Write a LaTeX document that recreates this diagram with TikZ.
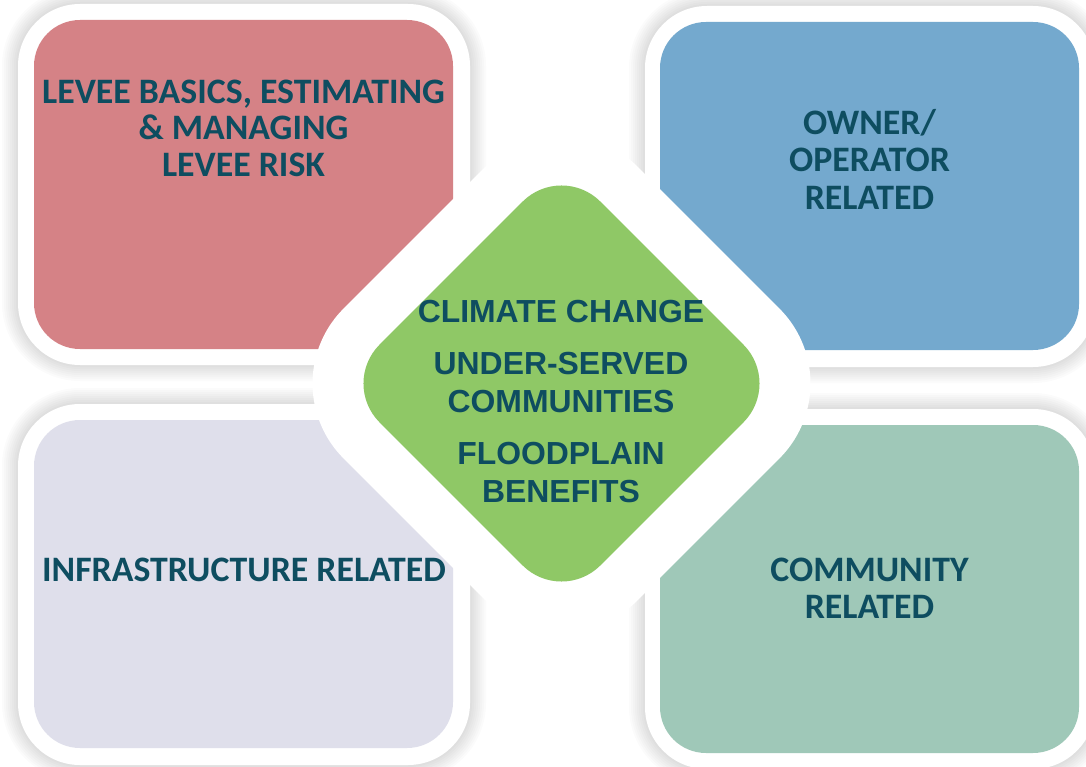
\documentclass[tikz,border=0pt]{standalone}
\usepackage{fontspec}
\newfontfamily\boxfont{Carlito}
\newfontfamily\centfont{Liberation Sans}
\definecolor{txt}{HTML}{0E4D60}
\definecolor{pinkc}{HTML}{D58286}
\definecolor{bluec}{HTML}{74A9CE}
\definecolor{lavc}{HTML}{DFDFEB}
\definecolor{tealc}{HTML}{9FC8B8}
\definecolor{greenc}{HTML}{8FC866}
\tikzset{
  outerbox/.style={fill=white, rounded corners=62pt},
  innerbox/.style={rounded corners=46pt},
  boxtext/.style={anchor=base, inner sep=0pt, text=txt, font=\boxfont\bfseries\fontsize{35.8}{38}\selectfont},
  centtext/.style={anchor=base, inner sep=0pt, text=txt, font=\centfont\bfseries\fontsize{31.9}{36}\selectfont},
  halo/.style={fill=white, draw=white, line width=102pt, line join=round, rounded corners=55pt},
}
\newcommand{\glow}[4]{%
  \foreach \w in {4,8,12,16,20,24,28,32}{%
    \draw[line width=\w pt, draw=black, draw opacity=0.014, rounded corners=62pt] (#1,#2) rectangle (#3,#4);}}
\begin{document}
\begin{tikzpicture}[x=1pt,y=-1pt]
\useasboundingbox (0,0) rectangle (1086,767);
\fill[white] (0,0) rectangle (1086,767);
% shadows
\glow{18}{4}{470}{365}
\glow{645}{6}{1095}{367}
\glow{18}{404}{470}{765}
\glow{645}{409}{1095}{769}
% outer white frames
\path[outerbox] (18,4) rectangle (470,365);
\path[outerbox] (645,6) rectangle (1095,367);
\path[outerbox] (18,404) rectangle (470,765);
\path[outerbox] (645,409) rectangle (1095,769);
% coloured boxes
\path[innerbox, fill=pinkc] (34,20) rectangle (453,349);
\path[innerbox, fill=bluec] (660,22) rectangle (1079,350);
\path[innerbox, fill=lavc] (34,420) rectangle (453,748);
\path[innerbox, fill=tealc] (660,425) rectangle (1079,753);
% box texts
\node[boxtext] (tl1) at (243.5,103.3) {LEVEE BASICS, ESTIMATING};
\node[boxtext] (tl2) at (243.5,140) {\& MANAGING};
\node[boxtext] (tl3) at (243.5,176.7) {LEVEE RISK};
\node[boxtext] (tr1) at (869.5,135) {OWNER/};
\node[boxtext] (tr2) at (869.5,171.7) {OPERATOR};
\node[boxtext] (tr3) at (869.5,209.3) {RELATED};
\node[boxtext] (bl1) at (244,581.7) {INFRASTRUCTURE RELATED};
\node[boxtext] (br1) at (869.5,581.7) {COMMUNITY};
\node[boxtext] (br2) at (869.5,618.3) {RELATED};
% central diamond
\path[halo] (671.9,273.1) -- (782.3,383.5) -- (561.5,604.3) -- (340.7,383.5) -- (561.5,162.7) -- cycle;
\path[fill=greenc, rounded corners=55pt] (671.9,273.1) -- (782.3,383.5) -- (561.5,604.3) -- (340.7,383.5) -- (561.5,162.7) -- cycle;
\node[centtext] (c1) at (561,322.7) {CLIMATE CHANGE};
\node[centtext] (c2) at (561,374) {UNDER-SERVED};
\node[centtext] (c3) at (561,412.7) {COMMUNITIES};
\node[centtext] (c4) at (561,464) {FLOODPLAIN};
\node[centtext] (c5) at (561,502.7) {BENEFITS};
\end{tikzpicture}
\end{document}
